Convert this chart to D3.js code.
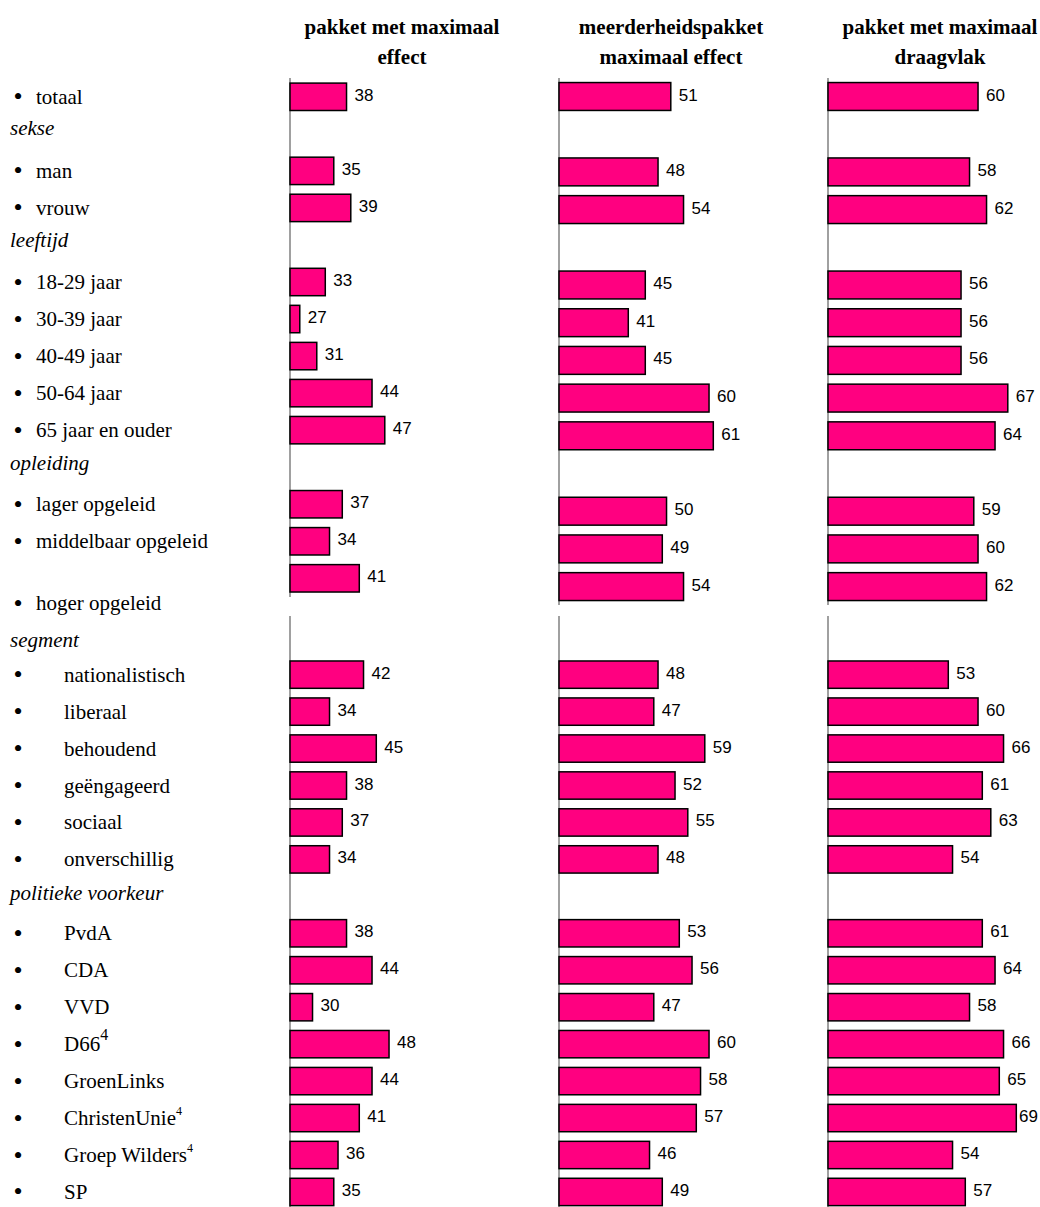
<!DOCTYPE html>
<html>
<head>
<meta charset="utf-8">
<script src="https://cdn.jsdelivr.net/npm/d3@7"></script>
<style>
  body { margin: 0; background: #fff; }
  svg { display: block; }
  .lbl { font-family: "Liberation Serif", "Times New Roman", serif; font-size: 21px; fill: #000; }
  .bul { font-family: "Liberation Serif", "Times New Roman", serif; font-size: 26px; fill: #000; }
  .hdr { font-family: "Liberation Serif", "Times New Roman", serif; font-size: 21px; font-weight: bold; fill: #000; }
  .val { font-family: "Liberation Sans", Arial, sans-serif; font-size: 17px; fill: #000; }
</style>
</head>
<body>
<div id="chart"></div>
<script>
// column titles
var titles = [
    ["pakket met maximaal", "effect"],
    ["meerderheidspakket", "maximaal effect"],
    ["pakket met maximaal", "draagvlak"]
];

// top block: rows (groups are the italic headings)
var topRows = ["totaal", "sekse", "man", "vrouw", "leeftijd", "18-29 jaar", "30-39 jaar",
    "40-49 jaar", "50-64 jaar", "65 jaar en ouder", "opleiding", "lager opgeleid",
    "middelbaar opgeleid", "hoger opgeleid"];
var topEffect    = [38, null, 35, 39, null, 33, 27, 31, 44, 47, null, 37, 34, 41];
var topMeerderh  = [51, null, 48, 54, null, 45, 41, 45, 60, 61, null, 50, 49, 54];
var topDraagvlak = [60, null, 58, 62, null, 56, 56, 56, 67, 64, null, 59, 60, 62];

// bottom block
var bottomRows = ["segment", "nationalistisch", "liberaal", "behoudend", "geëngageerd",
    "sociaal", "onverschillig", "politieke voorkeur", "PvdA", "CDA", "VVD", "D66",
    "GroenLinks", "ChristenUnie", "Groep Wilders", "SP"];
var bottomEffect    = [null, 42, 34, 45, 38, 37, 34, null, 38, 44, 30, 48, 44, 41, 36, 35];
var bottomMeerderh  = [null, 48, 47, 59, 52, 55, 48, null, 53, 56, 47, 60, 58, 57, 46, 49];
var bottomDraagvlak = [null, 53, 60, 66, 61, 63, 54, null, 61, 64, 58, 66, 65, 69, 54, 57];

var groupRows = ["sekse", "leeftijd", "opleiding", "segment", "politieke voorkeur"];
var footnoted = {"D66": "big", "ChristenUnie": "small", "Groep Wilders": "small"};

var width = 1040,
    height = 1207;

var svg = d3.select("#chart").append("svg")
    .attr("width", width)
    .attr("height", height);

var axisX = [290, 559, 828];
var barColor = "#ff0080";

// headers
titles.forEach(function(t, i) {
    var cx = axisX[i] + 112;
    t.forEach(function(line, j) {
        svg.append("text")
            .attr("class", "hdr")
            .attr("x", cx)
            .attr("y", 34 + j * 30)
            .attr("text-anchor", "middle")
            .text(line);
    });
});

function drawPanel(rows, values, col, first, step, axisTop, axisBottom) {
    var n = rows.length;
    var y = d3.scaleBand()
        .domain(rows)
        .range([first - step / 2, first - step / 2 + n * step])
        .paddingInner(0.26)
        .paddingOuter(0.13);

    var x = d3.scaleLinear()
        .domain([24.7, 75])
        .range([axisX[col], axisX[col] + 213.8]);

    var g = svg.append("g").attr("class", "panel");

    g.append("line")
        .attr("x1", axisX[col]).attr("x2", axisX[col])
        .attr("y1", axisTop).attr("y2", axisBottom)
        .attr("stroke", "#808080")
        .attr("stroke-width", 1.5);

    var data = rows.map(function(r, i) { return {row: r, v: values[i]}; })
        .filter(function(d) { return d.v != null; });

    g.selectAll("rect")
        .data(data)
        .enter().append("rect")
        .attr("x", x.range()[0])
        .attr("y", function(d) { return y(d.row); })
        .attr("width", function(d) { return x(d.v) - x.range()[0]; })
        .attr("height", y.bandwidth())
        .attr("fill", barColor)
        .attr("stroke", "#000")
        .attr("stroke-width", 1.5);

    // value labels; the one that would run off the page is pulled back
    g.selectAll("text.val")
        .data(data)
        .enter().append("text")
        .attr("class", "val")
        .attr("x", function(d) {
            var end = x(d.v) + 8;
            return end + 20 > width - 2 ? width - 2 : end;
        })
        .attr("text-anchor", function(d) {
            return x(d.v) + 28 > width - 2 ? "end" : "start";
        })
        .attr("y", function(d) { return y(d.row) + y.bandwidth() / 2 - 1.5; })
        .attr("dominant-baseline", "central")
        .text(function(d) { return d.v; });

    return y;
}

function drawLabels(rows, y, textX, nudge) {
    var g = svg.append("g").attr("class", "labels");
    rows.forEach(function(r) {
        var cy = y(r) + y.bandwidth() / 2 + (nudge[r] || 0);
        if (groupRows.indexOf(r) >= 0) {
            g.append("text")
                .attr("class", "lbl")
                .attr("x", 10)
                .attr("y", cy)
                .attr("dominant-baseline", "central")
                .style("font-style", "italic")
                .text(r);
            return;
        }
        g.append("text")
            .attr("class", "bul")
            .attr("x", 18)
            .attr("y", cy)
            .attr("text-anchor", "middle")
            .attr("dominant-baseline", "central")
            .text("\u2022");
        var t = g.append("text")
            .attr("class", "lbl")
            .attr("x", textX)
            .attr("y", cy)
            .attr("dominant-baseline", "central")
            .text(r);
        if (footnoted[r] == "big") {
            t.append("tspan").attr("dy", -10).style("font-size", "16px").text("4");
        } else if (footnoted[r]) {
            t.append("tspan").attr("dy", -7).style("font-size", "12px").text("4");
        }
    });
}

// top block
var yTop = drawPanel(topRows, topEffect, 0, 96.8, 37.04, 78, 597);
drawPanel(topRows, topMeerderh, 1, 96.5, 37.7, 78, 605);
drawPanel(topRows, topDraagvlak, 2, 96.5, 37.7, 78, 605);
drawLabels(topRows, yTop, 36, {"sekse": -6, "leeftijd": -5, "opleiding": -4, "hoger opgeleid": 25});

// bottom block
var yBot = drawPanel(bottomRows, bottomEffect, 0, 637.7, 36.95, 616, 1207);
drawPanel(bottomRows, bottomMeerderh, 1, 637.7, 36.95, 616, 1207);
drawPanel(bottomRows, bottomDraagvlak, 2, 637.7, 36.95, 616, 1207);
drawLabels(bottomRows, yBot, 64, {"segment": 2, "politieke voorkeur": -3});
</script>
</body>
</html>
